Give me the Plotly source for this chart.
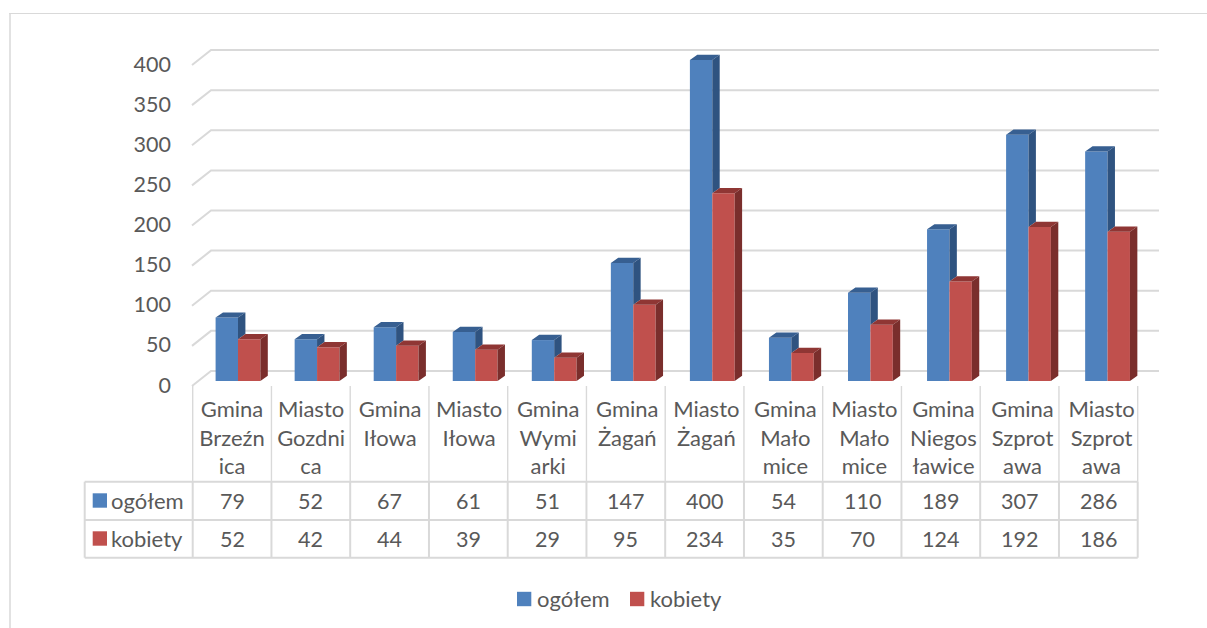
import plotly.graph_objects as go

categories = ["Gmina<br>Brzeźn<br>ica", "Miasto<br>Gozdni<br>ca", "Gmina<br>Iłowa", "Miasto<br>Iłowa",
              "Gmina<br>Wymi<br>arki", "Gmina<br>Żagań", "Miasto<br>Żagań", "Gmina<br>Mało<br>mice",
              "Miasto<br>Mało<br>mice", "Gmina<br>Niegos<br>ławice", "Gmina<br>Szprot<br>awa", "Miasto<br>Szprot<br>awa"]
ogolem = [79, 52, 67, 61, 51, 147, 400, 54, 110, 189, 307, 286]
kobiety = [52, 42, 44, 39, 29, 95, 234, 35, 70, 124, 192, 186]
y_ticks = [0, 50, 100, 150, 200, 250, 300, 350, 400]

W, H = 1207, 628
FONT = "Lato"
TXT = "#595959"
LINE = "#D9D9D9"
BLUE, BLUE_SIDE, BLUE_TOP = "#4F81BD", "#2F5380", "#375F91"
RED, RED_SIDE, RED_TOP = "#C0504D", "#7A2E2C", "#8F3634"
WORD_SIZE, NUM_SIZE = 22, 21.5

# pixel scale of the pseudo-3D axes
PX0, STEP = 238.0, 79.05        # px of category 0, px per category
PY0, PPU = 381.0, 0.8025        # px of value 0, px per unit
L, R, T, B = 191.0, 1160.0, 45.0, 392.0
to_x = lambda px: (px - PX0) / STEP
to_y = lambda py: (PY0 - py) / PPU
BAR_W = 22.4 / STEP
DX, DY = 7.4 / STEP, 5.2 / PPU

fig = go.Figure()
fig.add_bar(x=list(range(12)), y=ogolem, name="ogółem", marker=dict(color=BLUE, line_width=0),
            showlegend=False, hoverinfo="skip")
fig.add_bar(x=list(range(12)), y=kobiety, name="kobiety", marker=dict(color=RED, line_width=0),
            showlegend=False, hoverinfo="skip")


def poly(points_list, color):
    xs, ys = [], []
    for pts in points_list:
        xs += [p[0] for p in pts] + [pts[0][0], None]
        ys += [p[1] for p in pts] + [pts[0][1], None]
    fig.add_scatter(x=xs, y=ys, mode="lines", fill="toself", fillcolor=color, line=dict(width=0),
                    showlegend=False, hoverinfo="skip")


def top(x0, v):
    return [(x0, v), (x0 + BAR_W, v), (x0 + BAR_W + DX, v + DY), (x0 + DX, v + DY)]


blue_tops, blue_sides, red_tops, red_sides = [], [], [], []
for i, (a, b) in enumerate(zip(ogolem, kobiety)):
    xb, xm, xr = i - BAR_W, i, i + BAR_W
    blue_tops.append(top(xb, a))
    blue_sides.append([(xm, a), (xm + DX, a + DY), (xm + DX, b + DY), (xm, b)])
    red_tops.append(top(xm, b))
    red_sides.append([(xr, b), (xr + DX, b + DY), (xr + DX, DY), (xr, 0)])
poly(blue_tops, BLUE_TOP)
poly(blue_sides, BLUE_SIDE)
poly(red_tops, RED_TOP)
poly(red_sides, RED_SIDE)

shapes = []
# back-wall grid with its diagonal return to the front
for v in y_ticks:
    yb = to_y(371 - PPU * v)
    yf = to_y(386 - PPU * v)
    shapes.append(dict(type="path", xref="x", yref="y", layer="below",
                       path=f"M {to_x(192)} {yf} L {to_x(211)} {yb} L {to_x(1159)} {yb}",
                       line=dict(color=LINE, width=2)))


def pline(x0, y0, x1, y1, width=2, color=LINE):
    shapes.append(dict(type="line", xref="paper", yref="paper", x0=x0 / W, x1=x1 / W,
                       y0=1 - y0 / H, y1=1 - y1 / H, line=dict(color=color, width=width)))


# outer frame
pline(10, 13, 10, H, 2, "#E2E2E2")
pline(9, 13.5, W, 13.5, 1.2)

# data table grid
COL0, CW = 192.7, 78.75
ROWS = [481.7, 520.0, 557.7]
for i in range(13):
    xc = COL0 + i * CW
    pline(xc, 386, xc, 481.7, 1.4)
    pline(xc, 481.7, xc, ROWS[2], 2)
for ry in ROWS:
    pline(84.7, ry, COL0 + 12 * CW, ry, 2)
pline(84.7, ROWS[0], 84.7, ROWS[2], 2)

annotations = []
def label(px, py, text, anchor="center", size=WORD_SIZE):
    annotations.append(dict(xref="paper", yref="paper", x=px / W, y=1 - py / H, text=text, showarrow=False,
                            xanchor=anchor, yanchor="middle", xshift=0, yshift=0, borderpad=0,
                            font=dict(family=FONT, size=size, color=TXT)))


def square(x0, cy, col):
    shapes.append(dict(type="rect", xref="paper", yref="paper", x0=x0 / W, x1=(x0 + 14.3) / W,
                       y0=1 - (cy - 7.2) / H, y1=1 - (cy + 7.2) / H, fillcolor=col, line_width=0))


for row, (name, vals, col, key_x, key_text_x) in enumerate((("ogółem", ogolem, BLUE, 517, 536),
                                                            ("kobiety", kobiety, RED, 630, 649))):
    cy = 500.5 + row * 38
    square(92.7, cy, col)
    label(110, cy, name, "left")
    for i, v in enumerate(vals):
        label(COL0 + (i + 0.5) * CW, cy, str(v), size=NUM_SIZE)
    # legend key
    square(key_x, 599, col)
    label(key_text_x, 598, name, "left")

fig.update_layout(
    width=W, height=H, margin=dict(l=0, r=0, t=0, b=0, autoexpand=False), autosize=False,
    paper_bgcolor="white", plot_bgcolor="rgba(0,0,0,0)",
    barmode="group", bargap=1 - 2 * BAR_W, bargroupgap=0, showlegend=False,
    shapes=shapes, annotations=annotations,
    font=dict(family=FONT, size=WORD_SIZE, color=TXT),
    xaxis=dict(domain=[L / W, R / W], range=[to_x(L), to_x(R)], tickmode="array",
               tickvals=list(range(12)), ticktext=categories, showgrid=False, zeroline=False,
               showline=False, ticks="", ticklabelshift=-6, ticklabelstandoff=2,
               tickfont=dict(family=FONT, size=WORD_SIZE, color=TXT), tickangle=0),
    yaxis=dict(domain=[1 - B / H, 1 - T / H], range=[to_y(B), to_y(T)], tickmode="array",
               tickvals=y_ticks, ticktext=[str(v) for v in y_ticks], showgrid=False, zeroline=False,
               showline=False, ticks="", ticklabelshift=4, ticklabelstandoff=19,
               tickfont=dict(family=FONT, size=NUM_SIZE, color=TXT)),
)

fig.write_html("out.html", config=dict(displayModeBar=False),
               post_script="document.body.style.margin='0';document.body.style.overflow='hidden';")
